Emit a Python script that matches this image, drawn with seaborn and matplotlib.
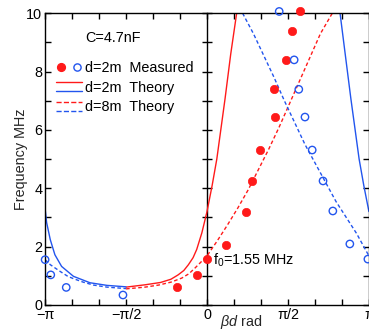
import numpy as np
import matplotlib
matplotlib.use("Agg")
import matplotlib.pyplot as plt
import seaborn as sns
from matplotlib.lines import Line2D
from matplotlib.legend_handler import HandlerBase, HandlerTuple
from matplotlib.ticker import MultipleLocator

# measured points
red_meas_x = [-0.59, -0.20, 0.0, 0.37, 0.76, 0.88, 1.03, 1.32, 1.30, 1.53, 1.64, 1.80]
red_meas_y = [0.60, 1.03, 1.57, 2.07, 3.20, 4.25, 5.31, 6.44, 7.39, 8.40, 9.38, 10.08]
blue_meas_x = [-3.14, -3.03, -2.73, -1.63, 1.40, 1.69, 1.78, 1.90, 2.04, 2.25, 2.44, 2.77, 3.12]
blue_meas_y = [1.55, 1.03, 0.60, 0.34, 10.06, 8.40, 7.39, 6.44, 5.31, 4.25, 3.22, 2.09, 1.57]

# theory d=2m
red_2m_x = [-1.57, -1.2, -0.9, -0.7, -0.56, -0.45, -0.36, -0.27, -0.2, -0.1, 0.0, 0.1, 0.19, 0.35, 0.46, 0.575]
red_2m_y = [0.61, 0.69, 0.77, 0.88, 1.03, 1.18, 1.38, 1.62, 1.90, 2.47, 3.2, 4.1, 5.0, 7.07, 8.6, 10.0]
blue_2m_left_x = [-3.14, -3.11, -3.04, -2.95, -2.82, -2.59, -2.27, -1.94, -1.57]
blue_2m_left_y = [3.30, 2.82, 2.24, 1.72, 1.32, 0.98, 0.76, 0.67, 0.62]
blue_2m_right_x = [2.58, 2.68, 2.79, 2.95, 3.04, 3.14]
blue_2m_right_y = [10.0, 8.6, 7.07, 5.0, 4.1, 3.2]

# theory d=8m
red_8m_x = [-1.57, -1.2, -0.94, -0.7, -0.49, -0.35, -0.23, -0.1, 0.0, 0.2, 0.4, 0.6, 0.8,
            1.0, 1.2, 1.4, 1.6, 1.8, 2.0, 2.2, 2.43]
red_8m_y = [0.55, 0.61, 0.68, 0.78, 0.92, 1.07, 1.27, 1.50, 1.68, 2.2, 2.75, 3.33, 3.95,
            4.65, 5.35, 6.1, 6.9, 7.7, 8.5, 9.3, 10.0]
blue_8m_left_x = [-3.14, -3.04, -2.85, -2.7, -2.59, -2.4, -2.2, -1.94, -1.57]
blue_8m_left_y = [1.55, 1.38, 1.15, 0.98, 0.90, 0.78, 0.68, 0.61, 0.56]
blue_8m_right_x = [0.69, 0.9, 1.1, 1.3, 1.5, 1.7, 1.9, 2.1, 2.3, 2.5, 2.7, 2.9, 3.14]
blue_8m_right_y = [10.0, 9.3, 8.55, 7.8, 7.0, 6.25, 5.5, 4.85, 4.2, 3.55, 3.0, 2.45, 1.68]

xtick_pos = [k * np.pi / 6 for k in range(-6, 7)]
xtick_lab = ["\u2212\u03c0", "", "", "\u2212\u03c0/2", "", "", "0", "", "", "\u03c0/2", "", "", "\u03c0"]

RED = "#ff1a1a"
BLUE = "#2255ee"
DASH = (0, (2.6, 1.8))
FS = 10.4

sns.set_theme(style="ticks")
plt.rcParams["font.family"] = ["Liberation Sans", "DejaVu Sans"]
plt.rcParams["mathtext.fontset"] = "custom"
plt.rcParams["mathtext.rm"] = "Liberation Sans"
plt.rcParams["mathtext.it"] = "Liberation Sans:italic"
plt.rcParams["text.color"] = "black"
plt.rcParams["axes.edgecolor"] = "black"
plt.rcParams["xtick.color"] = "black"
plt.rcParams["ytick.color"] = "black"

fig = plt.figure(figsize=(3.69, 3.30), dpi=100)
ax = fig.add_axes([0.122, 0.076, 0.878, 0.884])

# theory curves
sns.lineplot(x=red_2m_x, y=red_2m_y, ax=ax, color=RED, lw=1, sort=False)
sns.lineplot(x=blue_2m_left_x, y=blue_2m_left_y, ax=ax, color=BLUE, lw=1, sort=False)
sns.lineplot(x=blue_2m_right_x, y=blue_2m_right_y, ax=ax, color=BLUE, lw=1, sort=False)
sns.lineplot(x=red_8m_x, y=red_8m_y, ax=ax, color=RED, lw=1, linestyle=DASH, sort=False)
sns.lineplot(x=blue_8m_left_x, y=blue_8m_left_y, ax=ax, color=BLUE, lw=1, linestyle=DASH, sort=False)
sns.lineplot(x=blue_8m_right_x, y=blue_8m_right_y, ax=ax, color=BLUE, lw=1, linestyle=DASH, sort=False)

# measured
sns.scatterplot(x=red_meas_x, y=red_meas_y, ax=ax, color=RED, s=36, edgecolor=RED,
                linewidth=0.5, clip_on=False, zorder=5)
sns.scatterplot(x=blue_meas_x, y=blue_meas_y, ax=ax, facecolor="none", edgecolor=BLUE,
                s=28, linewidth=1, clip_on=False, zorder=5)

ax.set_xlim(-np.pi, np.pi)
ax.set_ylim(0, 10)
ax.set_xticks(xtick_pos, xtick_lab)
ax.set_yticks([0, 2, 4, 6, 8, 10])
ax.yaxis.set_minor_locator(MultipleLocator(1))
ax.tick_params(which="both", direction="in", top=True, right=True, length=4,
               width=1, labelsize=FS, pad=2)
for s in ax.spines.values():
    s.set_linewidth(1)

# vertical axis through zero
sec = ax.secondary_yaxis(0, transform=ax.transData)
sec.set_yticks([0, 2, 4, 6, 8, 10])
sec.yaxis.set_minor_locator(MultipleLocator(1))
sec.tick_params(which="both", direction="inout", length=6.5, width=1,
                labelleft=False, labelright=False)
sec.spines["left"].set_linewidth(1)

ax.set_ylabel("Frequency MHz", fontsize=FS)
ax.yaxis.set_label_coords(-0.053, 0.5)
ax.set_xlabel("$\\mathit{\u03b2d}$ rad", fontsize=FS)
ax.xaxis.set_label_coords(0.605, -0.026)

ax.text(-2.36, 9.14, "C=4.7nF", va="center", ha="left", fontsize=FS)
ax.text(0.11, 1.52, "f$_0$=1.55 MHz", va="center", ha="left", fontsize=FS)


class HandlerStack(HandlerBase):
    def create_artists(self, legend, orig_handle, xdescent, ydescent, width, height,
                       fontsize, trans):
        out = []
        yc = (height - ydescent) / 2
        for i, h in enumerate(orig_handle):
            y = yc + (0.32 - 0.64 * i) * fontsize
            ln = Line2D([-xdescent, width - xdescent], [y, y], color=h.get_color(),
                        linestyle=h.get_linestyle(), linewidth=h.get_linewidth())
            ln.set_transform(trans)
            out.append(ln)
        return out


h_meas = (Line2D([], [], marker="o", ls="", color=RED, ms=5.6),
          Line2D([], [], marker="o", ls="", mfc="none", mec=BLUE, mew=1, ms=5.2))
h_2m = (Line2D([], [], color=RED, lw=1), Line2D([], [], color=BLUE, lw=1))
h_8m = (Line2D([], [], color=RED, lw=1, ls=DASH), Line2D([], [], color=BLUE, lw=1, ls=DASH))

ax.legend([h_meas, h_2m, h_8m], ["d=2m  Measured", "d=2m  Theory", "d=8m  Theory"],
          handler_map={h_meas: HandlerTuple(ndivide=None, pad=0.36),
                       h_2m: HandlerStack(), h_8m: HandlerStack()},
          loc="upper left", bbox_to_anchor=(0.035, 0.835), frameon=False,
          borderpad=0, borderaxespad=0, handlelength=1.75, handletextpad=0.25,
          labelspacing=0.38, fontsize=FS)

fig.savefig("out.png", dpi=100)
